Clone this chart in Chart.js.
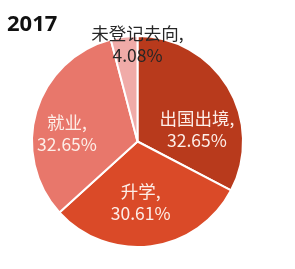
<!DOCTYPE html>
<html>
<head>
<meta charset="utf-8">
<script src="https://cdn.jsdelivr.net/npm/chart.js@4.4.0/dist/chart.umd.min.js"></script>
<style>
  html, body { margin: 0; padding: 0; background: #fff; }
  #wrap { width: 295px; height: 269px; position: relative; }
</style>
</head>
<body>
<div id="wrap"><canvas id="pie"></canvas></div>
<script>
// Data
const chartTitle = "2017";
const categories = ["出国出境", "升学", "就业", "未登记去向"];
const shares = [32.65, 30.61, 32.65, 4.08];

const sliceColors = ["#b83a1c", "#da4a28", "#e8776b", "#f0aba8"];
const labelColors = ["#fdeee8", "#fdeee8", "#fdeee8", "#262626"];
// label anchor: angle (deg, clockwise from top) and fraction of radius
const labelSpots = [
  { a: 78, r: 0.576 },
  { a: 177, r: 0.579 },
  { a: 277, r: 0.673 },
  { a: 0, r: 0.92 }
];

const labelFont = "17.5px 'Noto Sans CJK SC', 'Noto Sans', sans-serif";

const pieLabels = {
  id: "pieLabels",
  afterDatasetsDraw(chart) {
    const { ctx } = chart;
    const arcs = chart.getDatasetMeta(0).data;
    ctx.save();
    ctx.textAlign = "center";
    ctx.textBaseline = "middle";
    ctx.font = labelFont;
    arcs.forEach((arc, i) => {
      const spot = labelSpots[i];
      const ang = spot.a * Math.PI / 180;
      const cx = arc.x + Math.sin(ang) * arc.outerRadius * spot.r;
      const cy = arc.y - Math.cos(ang) * arc.outerRadius * spot.r;
      ctx.fillStyle = labelColors[i];
      ctx.fillText(categories[i] + ",", cx, cy - 11);
      ctx.fillText(shares[i].toFixed(2) + "%", cx, cy + 11);
    });
    // title
    ctx.textAlign = "left";
    ctx.textBaseline = "alphabetic";
    ctx.font = "bold 22px 'Noto Sans', 'DejaVu Sans', sans-serif";
    ctx.fillStyle = "#111";
    ctx.fillText(chartTitle, 7, 31);
    ctx.restore();
  }
};

new Chart(document.getElementById("pie"), {
  type: "pie",
  data: {
    labels: categories,
    datasets: [{
      data: shares,
      backgroundColor: sliceColors,
      borderColor: "#ffffff",
      borderWidth: 2
    }]
  },
  options: {
    responsive: true,
    maintainAspectRatio: false,
    animation: false,
    layout: { padding: { left: 31, right: 51, top: 35, bottom: 21 } },
    plugins: {
      legend: { display: false },
      tooltip: { enabled: false }
    }
  },
  plugins: [pieLabels]
});
</script>
</body>
</html>
